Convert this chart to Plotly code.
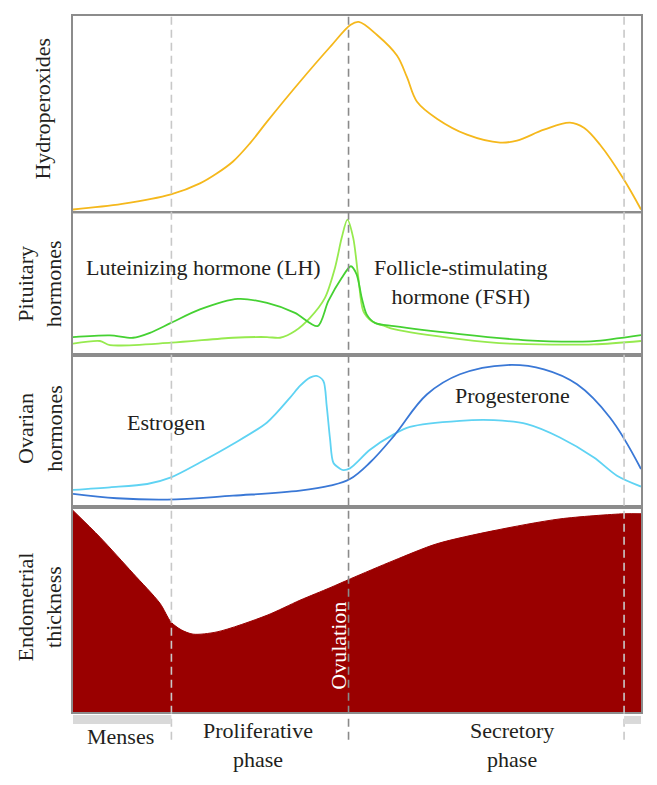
import plotly.graph_objects as go
from plotly.subplots import make_subplots

# ---- data (x = day of cycle) ----
X_MAX = 28.86
MENSES_END = 5
OVULATION = 14
CYCLE_END = 28

hydro_x = [0, 2.5, 4.98, 6.45, 7.3, 8.13, 8.99, 9.86, 11.53, 13.06, 14.11, 14.52, 15.45, 16.46, 16.97, 17.48, 18.49, 20.02, 21.70, 22.56, 23.93, 25.25, 25.96, 26.78, 27.99, 28.86]
hydro_y = [2.0, 4.8, 9.6, 15.2, 20.2, 26.3, 35.5, 46.5, 66.7, 84.3, 95.6, 97.0, 90.4, 80.0, 69.0, 56.6, 48.0, 39.9, 35.9, 36.9, 42.4, 46.0, 43.4, 34.8, 17.2, 2.0]

fsh_x = [0, 1.88, 3.05, 3.91, 4.98, 6.45, 8.38, 9.86, 11.28, 12.43, 12.97, 13.65, 14.12, 14.41, 14.67, 14.92, 15.34, 16.31, 19.66, 23.07, 25.5, 26.47, 28.86]
fsh_y = [12.7, 13.9, 12.2, 15.7, 22.7, 32.2, 39.6, 36.8, 29.8, 20.4, 38.0, 54.4, 62.7, 57.0, 40.4, 28.7, 22.7, 20.4, 14.8, 10.4, 9.5, 9.8, 14.1]

lh_x = [0, 1.37, 1.88, 4.98, 8.13, 9.86, 10.52, 11.28, 12.04, 12.80, 13.31, 13.65, 13.94, 14.24, 14.50, 14.75, 15.18, 15.85, 16.31, 19.66, 22.20, 26.47, 28.86]
lh_y = [8.0, 9.9, 7.0, 8.7, 12.2, 12.7, 12.2, 17.0, 26.3, 40.4, 61.5, 82.6, 95.6, 82.6, 54.4, 31.0, 23.9, 20.4, 18.3, 11.3, 8.0, 7.5, 9.9]

estrogen_x = [0, 1.88, 3.77, 4.98, 6.45, 8.13, 9.86, 11.03, 11.53, 12.04, 12.38, 12.72, 12.89, 13.06, 13.23, 13.57, 13.73, 14.07, 15.09, 16.31, 17.12, 19.66, 21.39, 23.07, 24.74, 26.47, 27.64, 28.86]
estrogen_y = [11.0, 12.7, 14.9, 19.3, 29.1, 41.3, 55.5, 71.9, 79.6, 85.1, 86.2, 82.9, 66.4, 44.7, 28.9, 25.0, 24.1, 25.2, 37.5, 47.8, 52.6, 56.6, 57.0, 54.4, 45.6, 32.4, 20.4, 13.2]

progest_x = [0, 2.23, 4.78, 8.13, 11.53, 13.06, 14.07, 15.09, 16.31, 17.99, 19.66, 22.05, 23.93, 25.61, 27.28, 28.86]
progest_y = [8.4, 5.5, 4.6, 7.2, 10.5, 13.8, 18.2, 29.1, 46.7, 74.1, 87.3, 93.4, 90.6, 80.7, 58.8, 24.8]

endo_x = [0, 1.37, 3.05, 4.42, 4.98, 5.5, 6.10, 7.32, 9.86, 11.53, 13.06, 14.11, 16.31, 18.49, 21.39, 24.74, 27.99, 28.86]
endo_y = [98.1, 85.1, 67.5, 52.9, 43.8, 40.0, 37.9, 39.0, 47.1, 54.4, 60.5, 64.9, 73.8, 81.9, 88.3, 94.0, 96.5, 96.5]

panel_titles = ["Hydroperoxides", "Pituitary<br>hormones", "Ovarian<br>hormones", "Endometrial<br>thickness"]
phase_labels = ["Menses", "Proliferative<br>phase", "Secretory<br>phase"]

FONT = "Liberation Serif"
TXT = "#231f20"
FRAME = "#8c8c8c"

fig = make_subplots(rows=4, cols=1, shared_xaxes=True, vertical_spacing=0,
                    row_heights=[198, 142, 152, 206])

def line(x, y, color, row, smooth=1.0):
    fig.add_trace(go.Scatter(x=x, y=y, mode="lines",
                             line=dict(color=color, width=1.8, shape="spline", smoothing=smooth),
                             showlegend=False, hoverinfo="skip"), row=row, col=1)

line(hydro_x, hydro_y, "#f5b81c", 1, 1.0)
line(lh_x, lh_y, "#96ea4e", 2, 0.8)
line(fsh_x, fsh_y, "#45d132", 2, 0.8)
line(estrogen_x, estrogen_y, "#5fd3f3", 3, 0.8)
line(progest_x, progest_y, "#3a78d6", 3, 1.1)
fig.add_trace(go.Scatter(x=endo_x, y=endo_y, mode="lines", fill="tozeroy",
                         fillcolor="#9a0000",
                         line=dict(color="#9a0000", width=1, shape="spline", smoothing=0.8),
                         showlegend=False, hoverinfo="skip"), row=4, col=1)

for r in range(1, 5):
    fig.update_xaxes(range=[0, X_MAX], showticklabels=False, ticks="", showgrid=False,
                     zeroline=False, showline=True, mirror=True, linecolor=FRAME, linewidth=1.5,
                     row=r, col=1)
    fig.update_yaxes(range=[0, 100], showticklabels=False, ticks="", showgrid=False,
                     zeroline=False, showline=True, mirror=True, linecolor=FRAME, linewidth=1.5,
                     row=r, col=1)

# dashed phase lines
for xv, col in [(MENSES_END, "#c8c8c8"), (OVULATION, "#8a8a8a"), (CYCLE_END, "#c8c8c8")]:
    fig.add_shape(type="line", xref="x4", yref="paper", x0=xv, x1=xv, y0=-0.040, y1=1.0,
                  line=dict(color=col, width=1.6, dash="8px,5px"), layer="above")

# grey phase bars
fig.add_shape(type="rect", xref="x4", yref="paper", x0=0, x1=MENSES_END, y0=-0.0172, y1=-0.0043,
              fillcolor="#d9d9d9", line=dict(width=0))
fig.add_shape(type="rect", xref="x4", yref="paper", x0=CYCLE_END, x1=X_MAX, y0=-0.0172, y1=-0.0057,
              fillcolor="#d9d9d9", line=dict(width=0))

ann = []
def A(text, x, y, angle=0, color=TXT, size=22):
    ann.append(dict(text=text, x=x, y=y, xref="paper", yref="paper", showarrow=False,
                    xanchor="center", yanchor="middle", textangle=angle,
                    font=dict(family=FONT, size=size, color=color)))

for t, yy in zip(panel_titles, [0.8668, 0.6146, 0.4069, 0.1504]):
    A(t, -0.053 if "<br>" not in t else -0.058, yy, angle=-90)

A("Luteinizing hormone (LH)", 0.2306, 0.638)
A("Follicle-stimulating<br>hormone (FSH)", 0.6831, 0.6184)
A("Estrogen", 0.1637, 0.4159)
A("Progesterone", 0.7746, 0.4542)
A("Ovulation", 0.4674, 0.0960, angle=-90, color="white")
A(phase_labels[0], 0.0845, -0.0358)
A(phase_labels[1], 0.3257, -0.048)
A(phase_labels[2], 0.7729, -0.048)

# the page adds an 8px body margin, so the figure is offset accordingly
fig.update_layout(width=649, height=777, margin=dict(l=65, r=16, t=6, b=73),
                  paper_bgcolor="white", plot_bgcolor="white", annotations=ann,
                  font=dict(family=FONT, color=TXT))

fig.write_html("out.html")
